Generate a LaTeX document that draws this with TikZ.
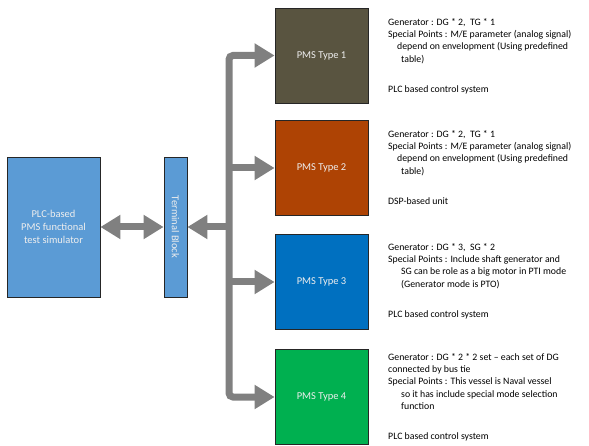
\documentclass[tikz,border=0pt]{standalone}
\usepackage{fontspec}
\setmainfont{Carlito}
\usetikzlibrary{arrows.meta}
\definecolor{simblue}{HTML}{5B9BD5}
\definecolor{pmsolive}{HTML}{595440}
\definecolor{pmsrust}{HTML}{AE4304}
\definecolor{pmsblue}{HTML}{0070C0}
\definecolor{pmsgreen}{HTML}{00B050}
\definecolor{busgray}{HTML}{808080}
\definecolor{boxtext}{HTML}{EEEEEE}
\begin{document}
\begin{tikzpicture}[x=1pt,y=-1pt,
  box/.style={draw=black!85, line width=0.8pt, inner sep=0pt, text=boxtext,
    font=\fontsize{10.5}{13}\selectfont, align=center},
  pms/.style={box, minimum width=93pt, minimum height=95pt},
  conn/.style={draw=busgray, line width=7pt},
  head/.tip={Triangle[width=23pt,length=20pt]},
  note/.style={anchor=north west, inner sep=0pt, align=left,
    font=\fontsize{9.8}{12.3}\selectfont}
]
\useasboundingbox (0,0) rectangle (589,446);

% simulator and terminal block
\node[box, fill=simblue, minimum width=93pt, minimum height=140pt] (sim) at (53.5,227)
  {PLC-based\\PMS functional\\test simulator};
\node[box, fill=simblue, minimum width=23pt, minimum height=140pt] (tb) at (175.5,227) {};
\node[rotate=-90, inner sep=0pt, text=boxtext, font=\fontsize{10.5}{13}\selectfont]
  (tblabel) at (tb.center) {Terminal Block};

% PMS variants
\node[pms, fill=pmsolive] (p1) at (321.5,55.5) {PMS Type 1};
\node[pms, fill=pmsrust]  (p2) at (321.5,168)  {PMS Type 2};
\node[pms, fill=pmsblue]  (p3) at (321.5,282)  {PMS Type 3};
\node[pms, fill=pmsgreen] (p4) at (321.5,397)  {PMS Type 4};

% distribution bus
\coordinate (bus) at (229,227);
\draw[conn, {head}-{head}] (sim.east) -- (tb.west);
\draw[conn, -{head}] (bus) -- (tb.east);
\draw[conn, rounded corners=4pt, {head}-{head}]
  (p1.west) -- (p1.west -| bus) -- (p4.west -| bus) -- (p4.west);
\draw[conn, -{head}] (p2.west -| bus) -- (p2.west);
\draw[conn, -{head}] (p3.west -| bus) -- (p3.west);

% descriptions
\node[note] (d1) at (388,18) {Generator : DG * 2,~ TG * 1\\
  Special Points : M/E parameter (analog signal)\\
  \hspace*{9pt}depend on envelopment (Using predefined\\
  \hspace*{13pt}table)\\[17.8pt]
  PLC based control system};
\node[note] (d2) at (388,130) {Generator : DG * 2,~ TG * 1\\
  Special Points : M/E parameter (analog signal)\\
  \hspace*{9pt}depend on envelopment (Using predefined\\
  \hspace*{13pt}table)\\[17.8pt]
  DSP-based unit};
\node[note] (d3) at (388,243) {Generator : DG * 3,~ SG * 2\\
  Special Points : Include shaft generator and\\
  \hspace*{13pt}SG can be role as a big motor in PTI mode\\
  \hspace*{13pt}(Generator mode is PTO)\\[17.8pt]
  PLC based control system};
\node[note] (d4) at (388,353) {Generator : DG * 2 * 2 set -- each set of DG\\
  connected by bus tie\\
  Special Points : This vessel is Naval vessel\\
  \hspace*{13pt}so it has include special mode selection\\
  \hspace*{13pt}function\\[17.8pt]
  PLC based control system};
\end{tikzpicture}
\end{document}
